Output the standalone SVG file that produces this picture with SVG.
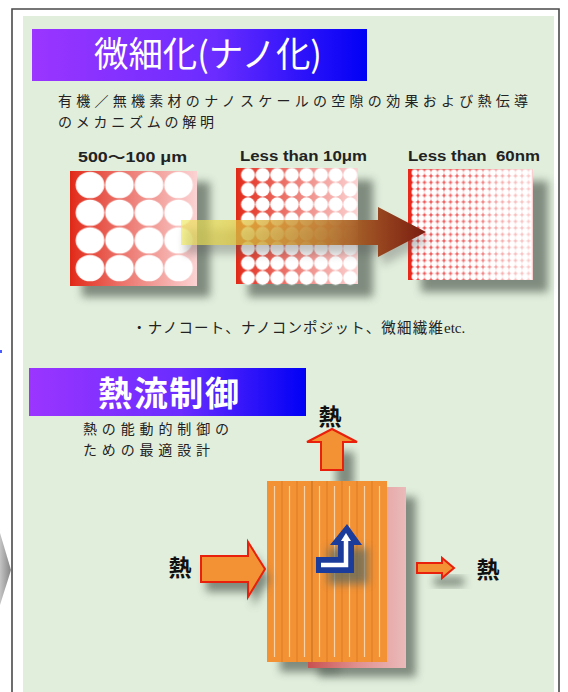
<svg xmlns="http://www.w3.org/2000/svg" width="568" height="692" viewBox="0 0 568 692">
  <defs>
    <style>
      .jp { font-family: "Noto Sans CJK JP", "Liberation Sans", sans-serif; fill: #222; }
      .lbl { font-family: "Liberation Sans", "Noto Sans CJK JP", sans-serif; font-weight: bold; font-size: 14px; fill: #222; }
      .head { font-family: "Noto Sans CJK JP", sans-serif; fill: #fff; }
      .heat { font-family: "Noto Sans CJK JP", sans-serif; font-weight: bold; font-size: 23px; fill: #111; text-anchor: middle; }
      .warm { fill: #f39234; stroke: #e8200c; stroke-width: 2; stroke-linejoin: miter; }
      .shadow { fill: #5f6a5f; opacity: 0.75; filter: url(#blur4); }
    </style>
    <linearGradient id="barGrad" x1="0" x2="1" y1="0" y2="0">
      <stop offset="0" stop-color="#9b35ff"/>
      <stop offset="0.55" stop-color="#6a2cff"/>
      <stop offset="1" stop-color="#0000f5"/>
    </linearGradient>
    <linearGradient id="redFade" x1="0" x2="1" y1="0" y2="0">
      <stop offset="0" stop-color="#e02816"/>
      <stop offset="0.05" stop-color="#e33424"/>
      <stop offset="0.45" stop-color="#ec7a72"/>
      <stop offset="1" stop-color="#fbd3d3"/>
    </linearGradient>
    <linearGradient id="redFadeFine" x1="0" x2="1" y1="0" y2="0">
      <stop offset="0" stop-color="#e8281a"/>
      <stop offset="0.03" stop-color="#e8281a"/>
      <stop offset="0.04" stop-color="#f05050"/>
      <stop offset="0.55" stop-color="#f27676"/>
      <stop offset="0.7" stop-color="#f6a8a8"/>
      <stop offset="1" stop-color="#fbd0d0"/>
    </linearGradient>
    <linearGradient id="arrowGrad" gradientUnits="userSpaceOnUse" x1="181" y1="0" x2="426" y2="0">
      <stop offset="0" stop-color="#eeea60" stop-opacity="0.65"/>
      <stop offset="0.2" stop-color="#e6cf40" stop-opacity="0.7"/>
      <stop offset="0.4" stop-color="#d29e30" stop-opacity="0.78"/>
      <stop offset="0.6" stop-color="#b87628" stop-opacity="0.88"/>
      <stop offset="0.8" stop-color="#984820" stop-opacity="1"/>
      <stop offset="1" stop-color="#7a1c10" stop-opacity="1"/>
    </linearGradient>
    <linearGradient id="backSheet" x1="0" x2="1" y1="0" y2="0">
      <stop offset="0" stop-color="#c85050"/>
      <stop offset="0.5" stop-color="#e09090"/>
      <stop offset="1" stop-color="#ebbaba"/>
    </linearGradient>
    <linearGradient id="chevron" x1="0" x2="1" y1="0" y2="0">
      <stop offset="0" stop-color="#c4c4c4"/>
      <stop offset="1" stop-color="#858585"/>
    </linearGradient>
    <filter id="blur4" x="-30%" y="-30%" width="160%" height="160%">
      <feGaussianBlur stdDeviation="4"/>
    </filter>
    <pattern id="dotsL" patternUnits="userSpaceOnUse" x="75.25" y="171.15" width="29.5" height="27.7">
      <ellipse cx="14.75" cy="13.85" rx="14.3" ry="13.2" fill="#fff"/>
    </pattern>
    <pattern id="dotsM" patternUnits="userSpaceOnUse" x="240.7" y="167.65" width="14.6" height="14.7">
      <circle cx="7.3" cy="7.35" r="7" fill="#fff"/>
    </pattern>
    <pattern id="dotsS" patternUnits="userSpaceOnUse" x="411.5" y="169.5" width="6.5" height="6.5">
      <circle cx="3.25" cy="3.25" r="3.15" fill="#fff"/>
    </pattern>
  </defs>

  <!-- page frame -->
  <rect x="0" y="0" width="568" height="692" fill="#fff"/>
  <rect x="23" y="16" width="531" height="676" fill="#e1eedc"/>
  <path d="M12,692 V9 H559 V692" fill="none" stroke="#4a4a4a" stroke-width="1.6"/>
  <polygon points="0,533 11,570 0,605" fill="url(#chevron)"/>
  <rect x="0" y="350" width="2" height="3" fill="#4a5cff"/>

  <!-- section 1: miniaturisation -->
  <g id="title-nano">
    <rect x="32" y="29" width="335" height="52" fill="url(#barGrad)"/>
    <text class="head" x="94" y="67" font-size="35" textLength="228" lengthAdjust="spacingAndGlyphs">微細化(ナノ化)</text>
  </g>
  <g id="desc-nano">
    <text class="jp" x="58" y="106" font-size="14" textLength="470" lengthAdjust="spacing">有機／無機素材のナノスケールの空隙の効果および熱伝導</text>
    <text class="jp" x="58" y="126.5" font-size="14" textLength="156" lengthAdjust="spacing">のメカニズムの解明</text>
  </g>

  <g id="pore-large">
    <rect class="shadow" x="82" y="182" width="128" height="115"/>
    <rect x="70" y="171" width="127" height="115" fill="url(#redFade)"/>
    <rect x="75.25" y="171.15" width="118" height="110.8" fill="url(#dotsL)"/>
    <text class="lbl" x="78" y="162" textLength="109" lengthAdjust="spacingAndGlyphs">500〜100 μm</text>
  </g>

  <g id="pore-medium">
    <rect class="shadow" x="248" y="180" width="125" height="117"/>
    <rect x="236" y="168" width="122" height="116" fill="url(#redFade)"/>
    <rect x="240.7" y="167.65" width="116.8" height="117.6" fill="url(#dotsM)"/>
    <text class="lbl" x="240" y="161" textLength="127" lengthAdjust="spacingAndGlyphs">Less than 10μm</text>
  </g>

  <g id="pore-small">
    <rect class="shadow" x="421" y="181" width="127" height="111"/>
    <rect x="408" y="169" width="125" height="111" fill="url(#redFadeFine)"/>
    <rect x="411.5" y="169.5" width="120.25" height="110.5" fill="url(#dotsS)"/>
    <text class="lbl" x="408" y="161" textLength="132" lengthAdjust="spacingAndGlyphs">Less than&#160; 60nm</text>
  </g>

  <!-- scale-down arrow -->
  <g id="connectors">
    <polygon points="185,229 382,229 382,216 430,241 382,266 382,254 185,254" fill="#555" opacity="0.35" filter="url(#blur4)"/>
    <polygon points="181,220 378,220 378,207 426,232 378,257 378,245 181,245" fill="url(#arrowGrad)"/>
  </g>

  <g id="examples">
    <text class="jp" x="132" y="333" font-size="14.5" textLength="311" lengthAdjust="spacing">・ナノコート、ナノコンポジット、微細繊維</text>
    <text x="444" y="333" font-family="Liberation Serif, serif" font-size="15" fill="#222">etc.</text>
  </g>

  <!-- section 2: heat flow control -->
  <g id="title-heat">
    <rect x="29" y="368" width="277" height="48" fill="url(#barGrad)"/>
    <text class="head" x="98" y="406" font-size="34" font-weight="bold" textLength="141" lengthAdjust="spacing">熱流制御</text>
  </g>
  <g id="desc-heat">
    <text class="jp" x="83" y="434" font-size="14" textLength="146" lengthAdjust="spacing">熱の能動的制御の</text>
    <text class="jp" x="83" y="454.5" font-size="14" textLength="127" lengthAdjust="spacing">ための最適設計</text>
  </g>

  <g id="heat-out-top">
    <rect class="shadow" x="336" y="452" width="18" height="36"/>
    <polygon class="warm" points="321,470 343,470 343,442 357,442 332,429 307,442 321,442"/>
    <text class="heat" x="330" y="425">熱</text>
  </g>

  <g id="fin-block">
    <rect class="shadow" x="318" y="497" width="98" height="180"/>
    <rect class="shadow" x="280" y="494" width="60" height="178" opacity="0.5"/>
    <rect x="308" y="487" width="98" height="181" fill="url(#backSheet)"/>
    <rect x="267" y="481" width="120" height="181" fill="#f39234"/>
    <g stroke="#dd7b22" stroke-width="1">
      <line x1="282" y1="481" x2="282" y2="662"/>
      <line x1="297" y1="481" x2="297" y2="662"/>
      <line x1="312" y1="481" x2="312" y2="662" stroke="#c46a1c"/>
      <line x1="327" y1="481" x2="327" y2="662"/>
      <line x1="342" y1="481" x2="342" y2="662"/>
      <line x1="357" y1="481" x2="357" y2="662"/>
      <line x1="372" y1="481" x2="372" y2="662"/>
    </g>
    <g stroke="#fbd2a6" stroke-width="1.2">
      <line x1="274.5" y1="486" x2="274.5" y2="657"/>
      <line x1="289.5" y1="486" x2="289.5" y2="657"/>
      <line x1="304.5" y1="486" x2="304.5" y2="657"/>
      <line x1="319.5" y1="486" x2="319.5" y2="657"/>
      <line x1="334.5" y1="486" x2="334.5" y2="657"/>
      <line x1="349.5" y1="486" x2="349.5" y2="657"/>
      <line x1="364.5" y1="486" x2="364.5" y2="657"/>
      <line x1="379.5" y1="486" x2="379.5" y2="657"/>
    </g>
  </g>

  <g id="flow-turn">
    <rect class="shadow" x="328" y="548" width="40" height="36"/>
    <polygon points="316,573 354,573 354,545 362,545 347,524 330,545 338,545 338,557 316,557" fill="#1c3c9c"/>
    <path d="M321,565 H346 V539" fill="none" stroke="#fff" stroke-width="4.5"/>
    <polygon points="341,541 346,533 351,541" fill="#fff"/>
  </g>

  <g id="heat-in">
    <polygon class="shadow" points="206,566 253,566 253,552 270,579 253,607 253,592 206,592"/>
    <polygon class="warm" points="201,556 248,556 248,542 265,569 248,597 248,582 201,582"/>
    <text class="heat" x="180" y="576">熱</text>
  </g>

  <g id="heat-out-right">
    <rect class="shadow" x="434" y="577" width="30" height="9"/>
    <polygon class="warm" points="417,563 442,563 442,558 454,568 442,578 442,573 417,573"/>
    <text class="heat" x="488" y="578">熱</text>
  </g>
</svg>
